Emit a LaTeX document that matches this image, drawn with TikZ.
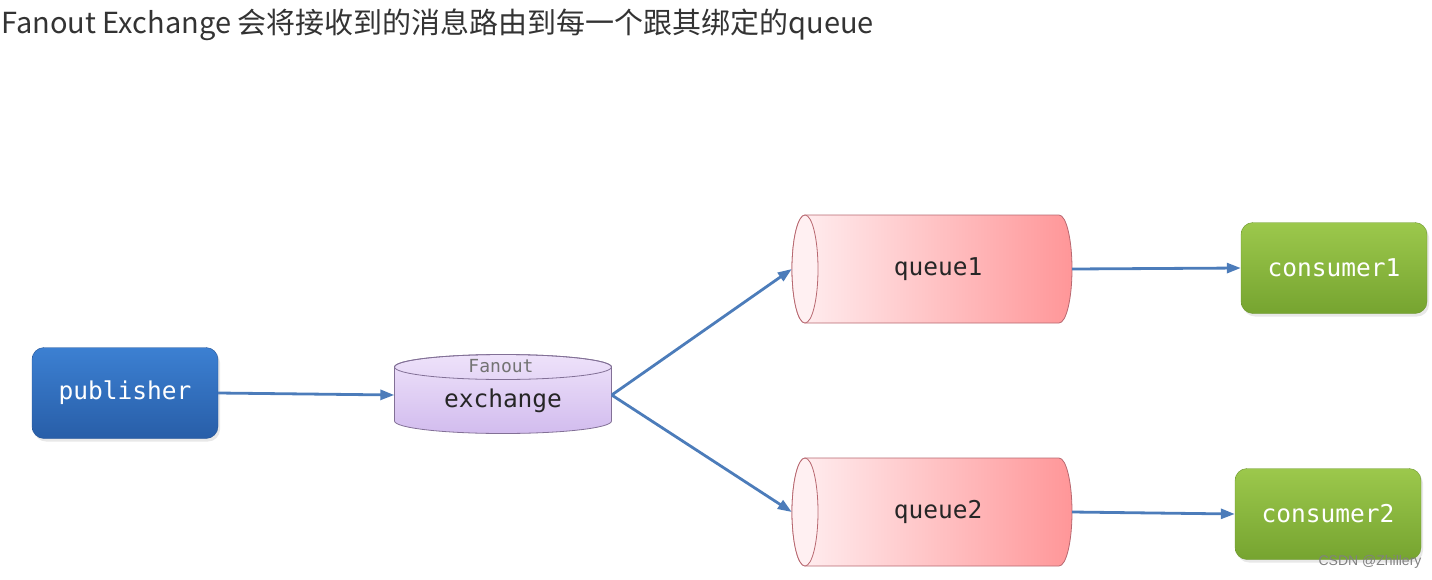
\documentclass[tikz,border=0pt]{standalone}
\usepackage{fontspec}
\setmainfont{Noto Sans}
\setmonofont{DejaVu Sans Mono}
\newfontfamily\cjk{Noto Sans CJK SC}
\newfontfamily\wmfont{Liberation Sans}
\usetikzlibrary{arrows.meta,shadows}

\definecolor{pubtop}{RGB}{60,128,210}
\definecolor{pubbot}{RGB}{40,94,168}
\definecolor{publine}{RGB}{38,84,150}
\definecolor{extop}{RGB}{238,226,250}
\definecolor{exbot}{RGB}{210,188,238}
\definecolor{exline}{RGB}{130,112,150}
\definecolor{qleft}{RGB}{255,240,242}
\definecolor{qright}{RGB}{255,150,152}
\definecolor{qline}{RGB}{184,104,112}
\definecolor{contop}{RGB}{156,200,76}
\definecolor{conbot}{RGB}{118,164,48}
\definecolor{conline}{RGB}{108,150,46}
\definecolor{arr}{RGB}{76,124,186}

\begin{document}
\begin{tikzpicture}[
    x=1pt, y=-1pt,
    >={Triangle[length=14pt,width=10pt]},
    lbl/.style={font=\ttfamily\fontsize{24.5}{28}\selectfont},
    box/.style={lbl, draw, rounded corners=12pt, text=white,
                minimum width=186pt, minimum height=91pt,
                drop shadow={opacity=0.18, shadow xshift=2pt, shadow yshift=-3pt}},
    pub/.style={box, draw=publine, top color=pubtop, bottom color=pubbot},
    con/.style={box, draw=conline, top color=contop, bottom color=conbot},
    hold/.style={inner sep=0pt, minimum width=#1},
    sig/.style={->, line width=2.8pt, arr},
    queuecyl/.pic={
      \path[draw=qline, line width=0.8pt, left color=qleft, right color=qright]
        (-127,-54) -- (127,-54)
        arc[start angle=90, end angle=-90, x radius=13pt, y radius=54pt]
        -- (-127,54)
        arc[start angle=-90, end angle=-270, x radius=13pt, y radius=54pt]
        -- cycle;
      \draw[qline, line width=0.8pt, fill=qleft]
        (-127,0) ellipse[x radius=13pt, y radius=54pt];
    },
    xchgcyl/.pic={
      \path[draw=exline, line width=0.8pt, top color=extop, bottom color=exbot]
        (-108.5,-28) -- (-108.5,26)
        arc[start angle=180, end angle=360, x radius=108.5pt, y radius=12.5pt]
        -- (108.5,-28)
        arc[start angle=0, end angle=180, x radius=108.5pt, y radius=12.5pt]
        -- cycle;
      \draw[exline, line width=0.8pt]
        (0,-28) ellipse[x radius=108.5pt, y radius=12.5pt];
    },
  ]
  \useasboundingbox (0,0) rectangle (1432,579);

  %% ---- title ------------------------------------------------------
  \node[anchor=west, inner sep=0pt, text=black!80] (title) at (1,25)
    {\cjk\fontsize{29}{32}\selectfont Fanout Exchange 会将接收到的消息路由到每一个跟其绑定的queue};

  %% ---- publisher & exchange ---------------------------------------
  \node[pub] (P) at (125,393) {publisher};

  \pic at (503,395) {xchgcyl};
  \node[hold=217pt, minimum height=80pt] (X) at (503,395) {};
  \node[lbl, text=black!85] (Xt) at (503,401) {exchange};
  \node[font=\ttfamily\fontsize{18}{20}\selectfont, text=black!55] (Xf) at (501,366) {Fanout};

  %% ---- queues -----------------------------------------------------
  \pic at (932,269) {queuecyl};
  \pic at (932,512) {queuecyl};
  \node[hold=280pt, minimum height=108pt] (Q1) at (932,269) {};
  \node[hold=280pt, minimum height=108pt] (Q2) at (932,512) {};
  \node[lbl, text=black!85] (Q1t) at (938,269) {queue1};
  \node[lbl, text=black!85] (Q2t) at (938,512) {queue2};

  %% ---- consumers --------------------------------------------------
  \node[con] (C1) at (1334,268) {consumer1};
  \node[con] (C2) at (1328,514) {consumer2};

  %% ---- connectors -------------------------------------------------
  \draw[sig] (P.east)  -- (X.west);
  \draw[sig] (X.east)  -- (Q1.west);
  \draw[sig] (X.east)  -- (Q2.west);
  \draw[sig] (Q1.east) -- (C1.west);
  \draw[sig] (Q2.east) -- (C2.west);

  \node[font=\wmfont\fontsize{14}{16}\selectfont, text=black!50] (wm) at (1370,562) {CSDN @Zhillery};

\end{tikzpicture}
\end{document}
